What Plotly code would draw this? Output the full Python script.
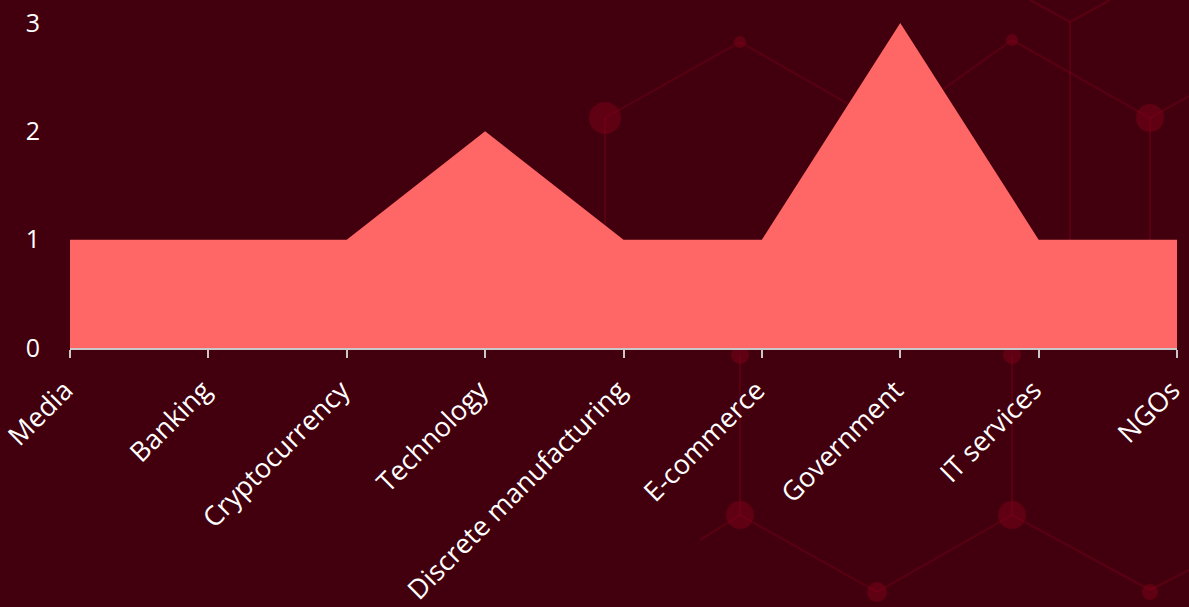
import plotly.graph_objects as go

categories = ["Media", "Banking", "Cryptocurrency", "Technology", "Discrete manufacturing",
              "E-commerce", "Government", "IT services", "NGOs"]
values = [1, 1, 1, 2, 1, 1, 3, 1, 1]
y_ticks = [0, 1, 2, 3]

W, H = 1189, 607
ML, MR, MT, MB = 70, 12, 23, 259
PW, PH = W - ML - MR, H - MT - MB


def px(xp, yp):
    return (xp - ML) / PW, (H - MB - yp) / PH


fig = go.Figure()
fig.add_trace(go.Scatter(
    x=categories, y=values, mode="lines", fill="tozeroy",
    line=dict(width=0, color="#ff6666"), fillcolor="#ff6666",
    hoverinfo="x+y", showlegend=False,
))

# faint decorative network in the background
line_col = "rgba(150,0,30,0.28)"
dot_col = "rgba(140,0,28,0.4)"
segments = [
    ((605, 118), (740, 42)), ((740, 42), (850, 105)), ((605, 118), (605, 240)),
    ((1012, 40), (935, 95)), ((1012, 40), (1150, 118)), ((1150, 118), (1189, 96)),
    ((1150, 118), (1150, 240)), ((1070, 22), (1070, 240)), ((1070, 22), (1030, 0)),
    ((1070, 22), (1110, 0)),
    ((740, 355), (740, 515)), ((1012, 355), (1012, 515)),
    ((740, 515), (877, 592)), ((877, 592), (1012, 515)), ((1012, 515), (1150, 590)),
    ((1150, 590), (1189, 570)), ((740, 515), (700, 540)),
]
dots = [((605, 118), 16), ((740, 42), 6), ((1012, 40), 6), ((1150, 118), 14),
        ((740, 355), 9), ((1012, 355), 9), ((740, 515), 14), ((1012, 515), 14),
        ((877, 592), 10), ((1150, 592), 8)]
shapes = []
for (a, b) in segments:
    x0, y0 = px(*a)
    x1, y1 = px(*b)
    shapes.append(dict(type="line", xref="paper", yref="paper", x0=x0, y0=y0, x1=x1, y1=y1,
                       line=dict(color=line_col, width=2), layer="below"))
for (c, r) in dots:
    x0, y0 = px(c[0] - r, c[1] + r)
    x1, y1 = px(c[0] + r, c[1] - r)
    shapes.append(dict(type="circle", xref="paper", yref="paper", x0=x0, y0=y0, x1=x1, y1=y1,
                       fillcolor=dot_col, line=dict(width=0), layer="below"))

fig.update_layout(
    width=W, height=H,
    margin=dict(l=ML, r=MR, t=MT, b=MB),
    paper_bgcolor="#42000e", plot_bgcolor="rgba(0,0,0,0)",
    font=dict(family="Open Sans", size=27, color="white"),
    shapes=shapes,
    xaxis=dict(type="category", range=[0, len(categories) - 1], showgrid=False, zeroline=False,
               automargin=False,
               showline=True, linecolor="#c8c8c8", linewidth=1.5,
               ticks="outside", ticklen=8, tickcolor="#c8c8c8", tickwidth=1.5,
               ticklabelstandoff=6, ticklabelshift=-5,
               tickangle=-45, tickfont=dict(size=27, color="white")),
    yaxis=dict(range=[0, 3], tickvals=y_ticks, showgrid=False, zeroline=False, showline=False,
               automargin=False, ticks="", ticklabelstandoff=29,
               tickfont=dict(size=25, color="white")),
)

fig.write_html("out.html")
